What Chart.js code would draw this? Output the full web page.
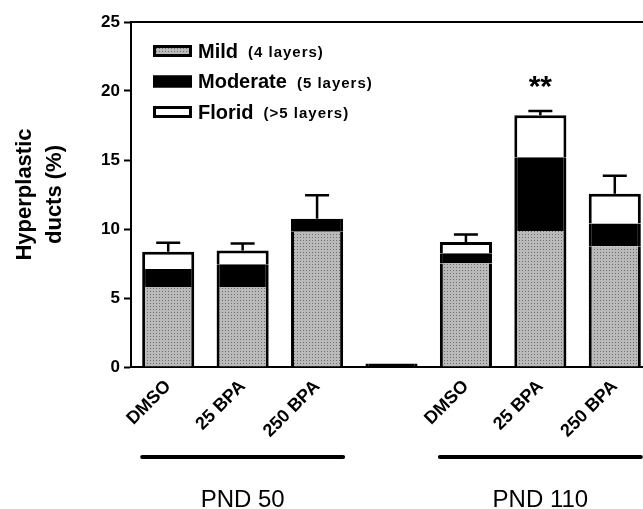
<!DOCTYPE html>
<html>
<head>
<meta charset="utf-8">
<script src="https://cdn.jsdelivr.net/npm/chart.js@4/dist/chart.umd.min.js"></script>
<style>
body{margin:0;overflow:hidden;background:#fff;}
</style>
</head>
<body>
<canvas id="c" width="660" height="509" style="width:660px;height:509px"></canvas>
<script>
// values (% hyperplastic ducts)
const categories=["DMSO","25 BPA","250 BPA","","DMSO","25 BPA","250 BPA"];
const mild=[5.8,5.8,9.8,0,7.5,9.85,8.75];
const moderate=[1.3,1.65,0.95,0.25,0.75,5.35,1.65];
const florid=[1.25,1.0,0,0,0.8,3.05,2.15];
const errTop=[9.0,8.95,12.45,null,9.6,18.55,13.85];
const signif=["","","","","","**",""];
const groupNames=["PND 50","PND 110"];
const groupFrom=[0,4];
const groupTo=[2,6];
const legendNotes=["(4 layers)","(5 layers)","(>5 layers)"];
const yTicks={min:0,max:25,step:5};

const FONT="'Liberation Sans', Arial, sans-serif";
Chart.defaults.font.family=FONT;
Chart.defaults.color="#000";

// dotted grey fill
const pc=document.createElement("canvas");
pc.width=3;pc.height=3;
const px=pc.getContext("2d");
px.fillStyle="#bababa";px.fillRect(0,0,3,3);
px.fillStyle="#6c6c6c";px.fillRect(0,0,1,1);
const mildFill=document.getElementById("c").getContext("2d").createPattern(pc,"repeat");

const fills=[mildFill,"#000","#fff"];

const extras={
id:"extras",
afterDatasetsDraw(chart){
const ctx=chart.ctx,y=chart.scales.y,area=chart.chartArea;
const bars=chart.getDatasetMeta(0).data;
ctx.save();
ctx.strokeStyle="#000";
ctx.fillStyle="#000";
// error bars (upper only)
ctx.lineWidth=2.5;
errTop.forEach((e,i)=>{
if(e==null)return;
const x=bars[i].x;
const t=y.getPixelForValue(mild[i]+moderate[i]+florid[i]);
const p=y.getPixelForValue(e);
ctx.beginPath();
ctx.moveTo(x,t);ctx.lineTo(x,p);
ctx.moveTo(x-12,p);ctx.lineTo(x+12,p);
ctx.stroke();
});
// significance
ctx.font="bold 30px "+FONT;
ctx.textAlign="center";
ctx.textBaseline="alphabetic";
signif.forEach((s,i)=>{
if(!s)return;
ctx.fillText(s,bars[i].x,y.getPixelForValue(errTop[i])-15);
});
// group lines and labels
ctx.lineWidth=4;
ctx.lineCap="round";
ctx.font="24px "+FONT;
groupNames.forEach((g,k)=>{
const a=bars[groupFrom[k]],b=bars[groupTo[k]];
const x0=a.x-a.width/2,x1=b.x+b.width/2;
ctx.beginPath();
ctx.moveTo(x0,area.bottom+90);ctx.lineTo(x1,area.bottom+90);
ctx.stroke();
ctx.fillText(g,(a.x+b.x)/2,area.bottom+140);
});
// legend
const lx=area.left+22;
chart.data.datasets.forEach((ds,i)=>{
const cy=area.top+29+i*30.5;
ctx.fillStyle=fills[i];
ctx.fillRect(lx,cy-6,39,12);
ctx.lineWidth=3;
ctx.lineCap="butt";
ctx.strokeRect(lx+1.5,cy-4.5,36,9);
ctx.fillStyle="#000";
ctx.textAlign="left";
ctx.textBaseline="middle";
ctx.font="bold 20px "+FONT;
ctx.fillText(ds.label,lx+45,cy+1);
const w=ctx.measureText(ds.label).width;
ctx.font="bold 15px "+FONT;
ctx.letterSpacing="1px";
ctx.fillText(legendNotes[i],lx+45+w+10,cy+2);
ctx.letterSpacing="0px";
});
ctx.restore();
}
};

const side={top:0,bottom:0,left:3,right:3};
new Chart(document.getElementById("c"),{
type:"bar",
data:{
labels:categories,
datasets:[
{label:"Mild",data:mild,backgroundColor:mildFill,borderColor:"#000",borderSkipped:false,borderWidth:side},
{label:"Moderate",data:moderate,backgroundColor:"#000",borderColor:"#000",borderSkipped:false,borderWidth:side},
{label:"Florid",data:florid,backgroundColor:"#fff",borderColor:"#000",borderSkipped:false,borderWidth:{top:3,bottom:0,left:3,right:3}}
]
},
options:{
responsive:false,
animation:false,
layout:{padding:{top:22,right:8,bottom:67,left:0}},
plugins:{legend:{display:false},tooltip:{enabled:false}},
datasets:{bar:{categoryPercentage:1,barPercentage:0.7}},
scales:{
x:{
stacked:true,
grid:{display:false,drawTicks:false},
border:{color:"#000",width:2},
ticks:{autoSkip:false,minRotation:45,maxRotation:45,padding:9,font:{size:18,weight:"bold"}},
afterFit(s){s.height=75;}
},
x2:{
type:"category",position:"top",
grid:{display:false,drawTicks:false},
ticks:{display:false},
border:{color:"#000",width:2}
},
y:{
stacked:true,
min:yTicks.min,max:yTicks.max,
ticks:{stepSize:yTicks.step,padding:4,font:{size:17,weight:"bold"}},
grid:{drawOnChartArea:false,tickLength:7,tickColor:"#000",tickWidth:2},
border:{color:"#000",width:2},
title:{display:true,text:["Hyperplastic","ducts (%)"],font:{size:22,weight:"bold",lineHeight:1.36},padding:{top:10,bottom:0}},
afterFit(s){s.width=131;}
}
}
},
plugins:[extras]
});
</script>
</body>
</html>
